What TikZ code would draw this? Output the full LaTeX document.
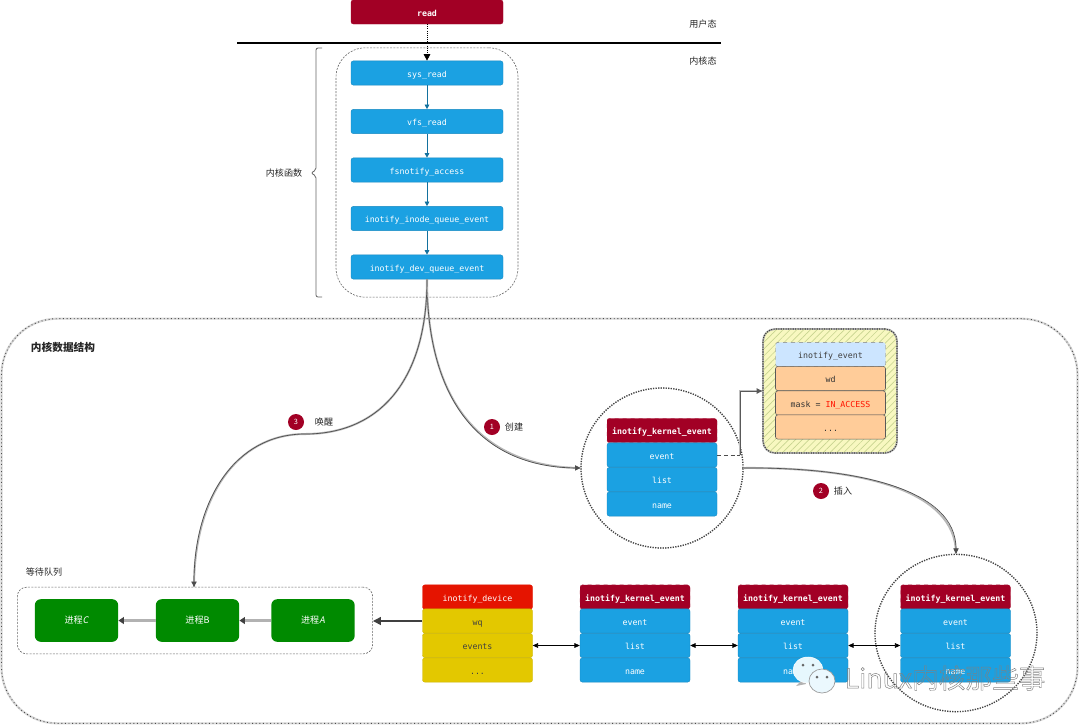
\documentclass[tikz,border=0pt]{standalone}
\usepackage{fontspec}
\setmainfont{Noto Sans CJK SC}
\newfontfamily\cjk{Noto Sans CJK SC}
\newfontfamily\cjkslant[FakeSlant=0.2]{Noto Sans CJK SC}
\newfontfamily\monof{DejaVu Sans Mono}
\usetikzlibrary{arrows.meta,patterns.meta,shapes.geometric}
\definecolor{kred}{HTML}{A20025}
\definecolor{kblue}{HTML}{1BA1E2}
\definecolor{kgreen}{HTML}{008A00}
\definecolor{kdev}{HTML}{E51400}
\definecolor{kyel}{HTML}{E3C800}
\definecolor{korange}{HTML}{FFCC99}
\definecolor{klight}{HTML}{CCE5FF}
\definecolor{khatchbg}{HTML}{F8F8C0}
\definecolor{khatch}{HTML}{C8D490}
\tikzset{
  x=0.75pt,y=-0.75pt,
  mono/.style={font=\monof\fontsize{6.2}{7}\selectfont},
  cell/.style={mono,rounded corners=1.8pt,minimum width=82.5pt,minimum height=18.2pt,inner sep=0pt,text=white,text height=6pt,text depth=0pt},
  fnbox/.style={cell,fill=kblue,draw=kblue!85!black,line width=.3pt,minimum width=114pt},
  redbig/.style={cell,fill=kred,draw=kred,line width=.3pt,minimum width=114pt,minimum height=18pt,font=\monof\bfseries\fontsize{6.2}{7}\selectfont},
  head/.style={cell,fill=kred,draw=kred!85!white,dashed,line width=.3pt,font=\monof\bfseries\fontsize{6.2}{7}\selectfont},
  blue/.style={cell,fill=kblue,draw=kblue!85!black,line width=.3pt},
  devhead/.style={cell,fill=kdev,draw=kdev,line width=.3pt},
  yel/.style={cell,fill=kyel,draw=kyel!90!black,line width=.3pt,text=black!75},
  org/.style={cell,fill=korange,draw=black!65,line width=.4pt,text=black!80},
  lhead/.style={cell,fill=klight,draw=black!50,dashed,line width=.3pt,text=black!75},
  proc/.style={fill=kgreen,text=white,rounded corners=4.5pt,minimum width=62.5pt,minimum height=32pt,inner sep=0pt,font=\cjk\fontsize{6.8}{8}\selectfont},
  lab/.style={font=\cjk\fontsize{6.8}{8}\selectfont,text=black!85,inner sep=0pt},
  badge/.style={circle,fill=kred,text=white,minimum size=12pt,inner sep=0pt,font=\cjk\fontsize{5.5}{6}\selectfont},
  groupbox/.style={draw=black!60,dash pattern=on 1.5pt off 1pt,line width=.45pt,rounded corners=#1,inner sep=0pt},
  loupe/.style={ellipse,draw=black!75,densely dotted,line width=.9pt,inner sep=0pt,preaction={draw=black!30,line width=1.1pt}},
  flow/.style={kblue!70!black,line width=.6pt,-{Triangle[length=3.5pt,width=3.5pt]}},
  curvy/.style={black!70,line width=.5pt,-{Triangle[length=4pt,width=4pt]},preaction={draw=black!28,line width=1.5pt,-}},
  biarrow/.style={black,line width=.5pt,{Triangle[length=4pt,width=3.5pt]}-{Triangle[length=4pt,width=3.5pt]}},
  wideflow/.style={draw=black!30,line width=2.2pt,-{Triangle[length=4pt,width=5pt,black!75]}},
}
\begin{document}
\begin{tikzpicture}
\useasboundingbox (0,0) rectangle (1080,726);
\fill[white] (0,0) rectangle (1080,726);

% outer panel
\node[draw=black!15,line width=1.6pt,rounded corners=42pt,minimum width=807pt,minimum height=303.5pt,inner sep=0pt] (outerbg) at (539.5,521) {};
\node[draw=black!70,dotted,line width=.7pt,rounded corners=42pt,minimum width=807pt,minimum height=303.5pt,inner sep=0pt] (outer) at (539.5,521) {};
\node[lab,font=\cjk\bfseries\fontsize{8}{9}\selectfont] (titledata) at (63,347) {内核数据结构};

% user / kernel split
\coordinate (splitL) at (237,43);
\coordinate (splitR) at (721,43);
\draw[black,line width=2.2pt] (splitL) -- (splitR);
\node[lab] (userlab) at (703,24) {用户态};
\node[lab] (kernlab) at (703,61) {内核态};

% kernel functions group
\node[groupbox=22pt,minimum width=136.5pt,minimum height=187pt] (fngroup) at (427,172.5) {};
\node[redbig] (read) at (427,12) {read};
\node[fnbox] (sysread) at (427,73) {sys\_read};
\node[fnbox] (vfsread) at (427,121.5) {vfs\_read};
\node[fnbox] (fsnotify) at (427,170) {fsnotify\_access};
\node[fnbox] (inode) at (427,218.5) {inotify\_inode\_queue\_event};
\node[fnbox] (devq) at (427,267) {inotify\_dev\_queue\_event};

\draw[black,line width=.6pt,densely dotted,-{Triangle[length=5pt,width=5pt]}] (read) -- (sysread);
\draw[flow] (sysread) -- (vfsread);
\draw[flow] (vfsread) -- (fsnotify);
\draw[flow] (fsnotify) -- (inode);
\draw[flow] (inode) -- (devq);

% brace
\draw[black!60,line width=.6pt,rounded corners=1.5pt] (322,48) -- (316,48) -- (316,170) -- (311,173) -- (316,176) -- (316,297) -- (322,297);
\node[lab] (fnlab) at (284,173) {内核函数};

% new event with loupe
\node[loupe,minimum width=121.5pt,minimum height=120pt] (loupeA) at (662,468) {};
\node[head] (k1h) at (662,430.5) {inotify\_kernel\_event};
\node[blue] (k1e) at (662,455) {event};
\node[blue] (k1l) at (662,479.5) {list};
\node[blue] (k1n) at (662,504) {name};

% inotify_event panel
\node[rounded corners=9pt,minimum width=100.5pt,minimum height=93pt,inner sep=0pt,fill=khatchbg,draw=black!30,line width=1.4pt,
  postaction={pattern={Lines[angle=45,distance=3.6pt,line width=.5pt]},pattern color=khatch}] (yellowpanel) at (830,391) {};
\node[rounded corners=9pt,minimum width=100.5pt,minimum height=93pt,inner sep=0pt,draw=black!75,densely dotted,line width=.8pt] (yellowedge) at (830,391) {};
\node[lhead] (ih) at (830.5,354.5) {inotify\_event};
\node[org] (iw) at (830.5,378.5) {wd};
\node[org] (im) at (830.5,403) {mask = \textcolor{red!85!orange}{IN\_ACCESS}};
\node[org] (id) at (830.5,427) {...};

% wait queue
\node[groupbox=7pt,minimum width=266.5pt,minimum height=50pt] (waitgroup) at (195,620.5) {};
\node[lab] (waitlab) at (44,572) {等待队列};
\node[proc] (procC) at (76.5,620.5) {进程{\cjkslant C}};
\node[proc] (procB) at (197.5,620.5) {进程B};
\node[proc] (procA) at (313,620.5) {进程{\cjkslant A}};
\draw[wideflow] (procA) -- (procB);
\draw[wideflow] (procB) -- (procC);

% inotify_device
\node[devhead] (dh) at (477.5,597) {inotify\_device};
\node[yel] (dw) at (477.5,621) {wq};
\node[yel] (de) at (477.5,645.5) {events};
\node[yel] (dd) at (477.5,670) {...};
\draw[black!75,line width=1.1pt,-{Triangle[length=6pt,width=6pt]}] (dw.west) -- (waitgroup.east |- dw.west);

% event chain
\node[loupe,minimum width=121.5pt,minimum height=118pt] (loupeB) at (956,633) {};
\foreach \nm/\cx in {a/635,b/793,c/955.5}{
  \node[head] (\nm h) at (\cx,597) {inotify\_kernel\_event};
  \node[blue] (\nm e) at (\cx,621) {event};
  \node[blue] (\nm l) at (\cx,645.5) {list};
  \node[blue] (\nm n) at (\cx,670) {name};
}
\draw[biarrow] (de.east) -- (al.west);
\draw[biarrow] (al.east) -- (bl.west);
\draw[biarrow] (bl.east) -- (cl.west);

% connectors from the top stack
\draw[curvy] (devq.south) .. controls (427,400) and (480,467) .. (loupeA.west);
\coordinate (wakemid) at (305,434);
\draw[curvy] (devq.south) .. controls (427,380) and (380,434) .. (wakemid) .. controls (235,434) and (194,500) .. (waitgroup.north -| 194,587);
\draw[curvy] (loupeA.east) .. controls (860,467) and (956,490) .. (loupeB.north);
\coordinate (elbow) at (740,455);
\draw[black!70,densely dashed,line width=.6pt] (k1e.east) -- (elbow);
\draw[black!65,line width=.6pt,-{Triangle[length=4pt,width=4pt]},preaction={draw=black!25,line width=1.4pt,-}] (elbow) |- (yellowpanel.west |- 0,391);

% step badges
\node[badge] (b3) at (296,422) {3};
\node[lab] (l3) at (324,422) {唤醒};
\node[badge] (b1) at (492,427) {1};
\node[lab] (l1) at (514,427) {创建};
\node[badge] (b2) at (821,491) {2};
\node[lab] (l2) at (843,491) {插入};

% watermark
\begin{scope}
\fill[black!30] (796,686) -- (804,678) -- (806,684) -- cycle;
\fill[white!90!cyan,draw=white,line width=.4pt] (808,670) ellipse [x radius=15,y radius=13];
\fill[white] (827,692) -- (824,682) -- (818,690) -- cycle;
\fill[white!92!cyan,draw=black!40,line width=.5pt] (822,681) ellipse [x radius=13,y radius=12];
\fill[black!60] (803,665) circle [radius=1.5] (813,665) circle [radius=1.5] (817,677) circle [radius=1.5] (827,677) circle [radius=1.5];
\end{scope}
\node[inner sep=0pt,text=black!42,font=\cjk\fontsize{20}{22}\selectfont] (mark) at (945,678) {\special{pdf:code 1 Tr 0.35 w 0.5 0.5 0.5 RG}Linux内核那些事\special{pdf:code 0 Tr}};
\end{tikzpicture}
\end{document}
